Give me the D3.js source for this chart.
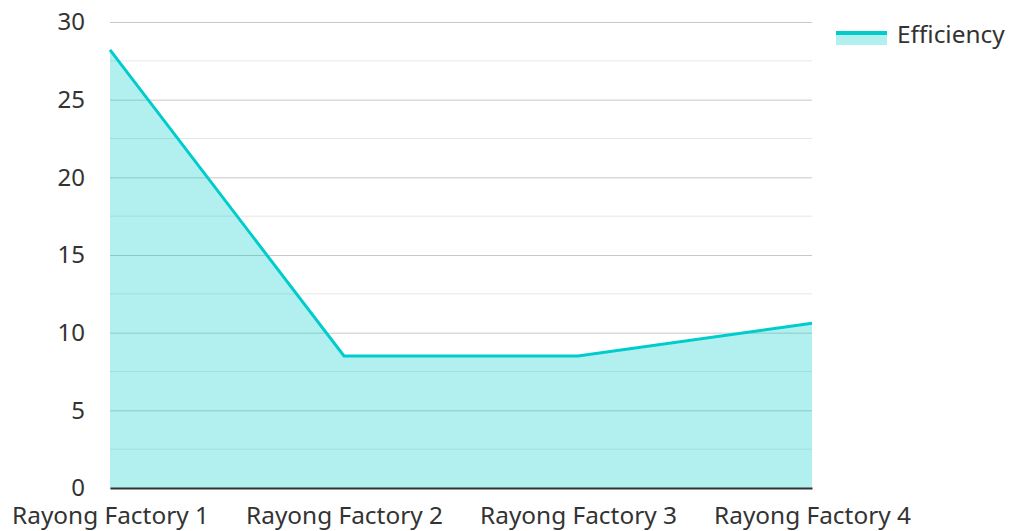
<!DOCTYPE html>
<html>
<head>
<meta charset="utf-8">
<script src="https://cdn.jsdelivr.net/npm/d3@7"></script>
<style>
  body { margin: 0; background: #fff; }
  text { font-family: "Noto Sans", sans-serif; }
</style>
</head>
<body>
<svg width="1009" height="531"></svg>
<script>
const factories = ['Rayong Factory 1', 'Rayong Factory 2', 'Rayong Factory 3', 'Rayong Factory 4'];
const efficiency = [28.2, 8.5, 8.5, 10.6];
const majorTicks = [0, 5, 10, 15, 20, 25, 30];
const minorTicks = [2.5, 7.5, 12.5, 17.5, 22.5, 27.5];
const seriesName = 'Efficiency';

const svg = d3.select('svg');
const margin = {top: 22, right: 197, bottom: 43, left: 110};
const width = +svg.attr('width');
const height = +svg.attr('height');
const innerWidth = width - margin.left - margin.right;
const innerHeight = height - margin.top - margin.bottom;

const data = factories.map((f, i) => ({factory: f, value: efficiency[i]}));

const xScale = d3.scalePoint()
    .domain(factories)
    .range([0, innerWidth]);

const yScale = d3.scaleLinear()
    .domain([0, 30])
    .range([innerHeight, 0]);

const g = svg.append('g')
    .attr('transform', `translate(${margin.left},${margin.top})`);

// minor grid
g.append('g').selectAll('line').data(minorTicks)
    .enter().append('line')
        .attr('x1', 0).attr('x2', innerWidth)
        .attr('y1', d => yScale(d)).attr('y2', d => yScale(d))
        .attr('stroke', '#e6e6e6')
        .attr('stroke-width', 1);

// major grid + y labels
const yAxis = d3.axisLeft(yScale)
    .tickValues(majorTicks)
    .tickSize(-innerWidth)
    .tickPadding(25);
const yAxisG = g.append('g').call(yAxis);
yAxisG.select('.domain').remove();
yAxisG.selectAll('.tick line').attr('stroke', '#c8c8c8');
yAxisG.selectAll('.tick text')
    .attr('fill', '#333')
    .style('font-size', '24px')
    .style('font-family', '"Noto Sans", sans-serif');

// area + line
const area = d3.area()
    .x(d => xScale(d.factory))
    .y0(innerHeight)
    .y1(d => yScale(d.value));
const line = d3.line()
    .x(d => xScale(d.factory))
    .y(d => yScale(d.value));

g.append('path').datum(data)
    .attr('d', area)
    .attr('fill', 'rgba(0, 204, 204, 0.3)');

g.append('path').datum(data)
    .attr('d', line)
    .attr('fill', 'none')
    .attr('stroke', '#00cccc')
    .attr('stroke-width', 3);

// x axis
const xAxisG = g.append('g')
    .attr('transform', `translate(0,${innerHeight})`)
    .call(d3.axisBottom(xScale).tickSize(0).tickPadding(19));
xAxisG.select('.domain').attr('stroke', '#333').attr('stroke-width', 2);
xAxisG.selectAll('.tick text')
    .attr('fill', '#333')
    .style('font-size', '24.4px')
    .style('font-family', '"Noto Sans", sans-serif');

// legend
const legend = svg.append('g').attr('transform', 'translate(836,31)');
legend.append('rect')
    .attr('x', 0).attr('y', 0).attr('width', 51).attr('height', 14)
    .attr('fill', 'rgba(0, 204, 204, 0.3)');
legend.append('line')
    .attr('x1', 0).attr('x2', 51).attr('y1', 2).attr('y2', 2)
    .attr('stroke', '#00cccc').attr('stroke-width', 4);
legend.append('text')
    .attr('x', 61).attr('y', 3)
    .attr('dy', '0.35em')
    .attr('fill', '#333')
    .style('font-size', '24.4px')
    .text(seriesName);
</script>
</body>
</html>
